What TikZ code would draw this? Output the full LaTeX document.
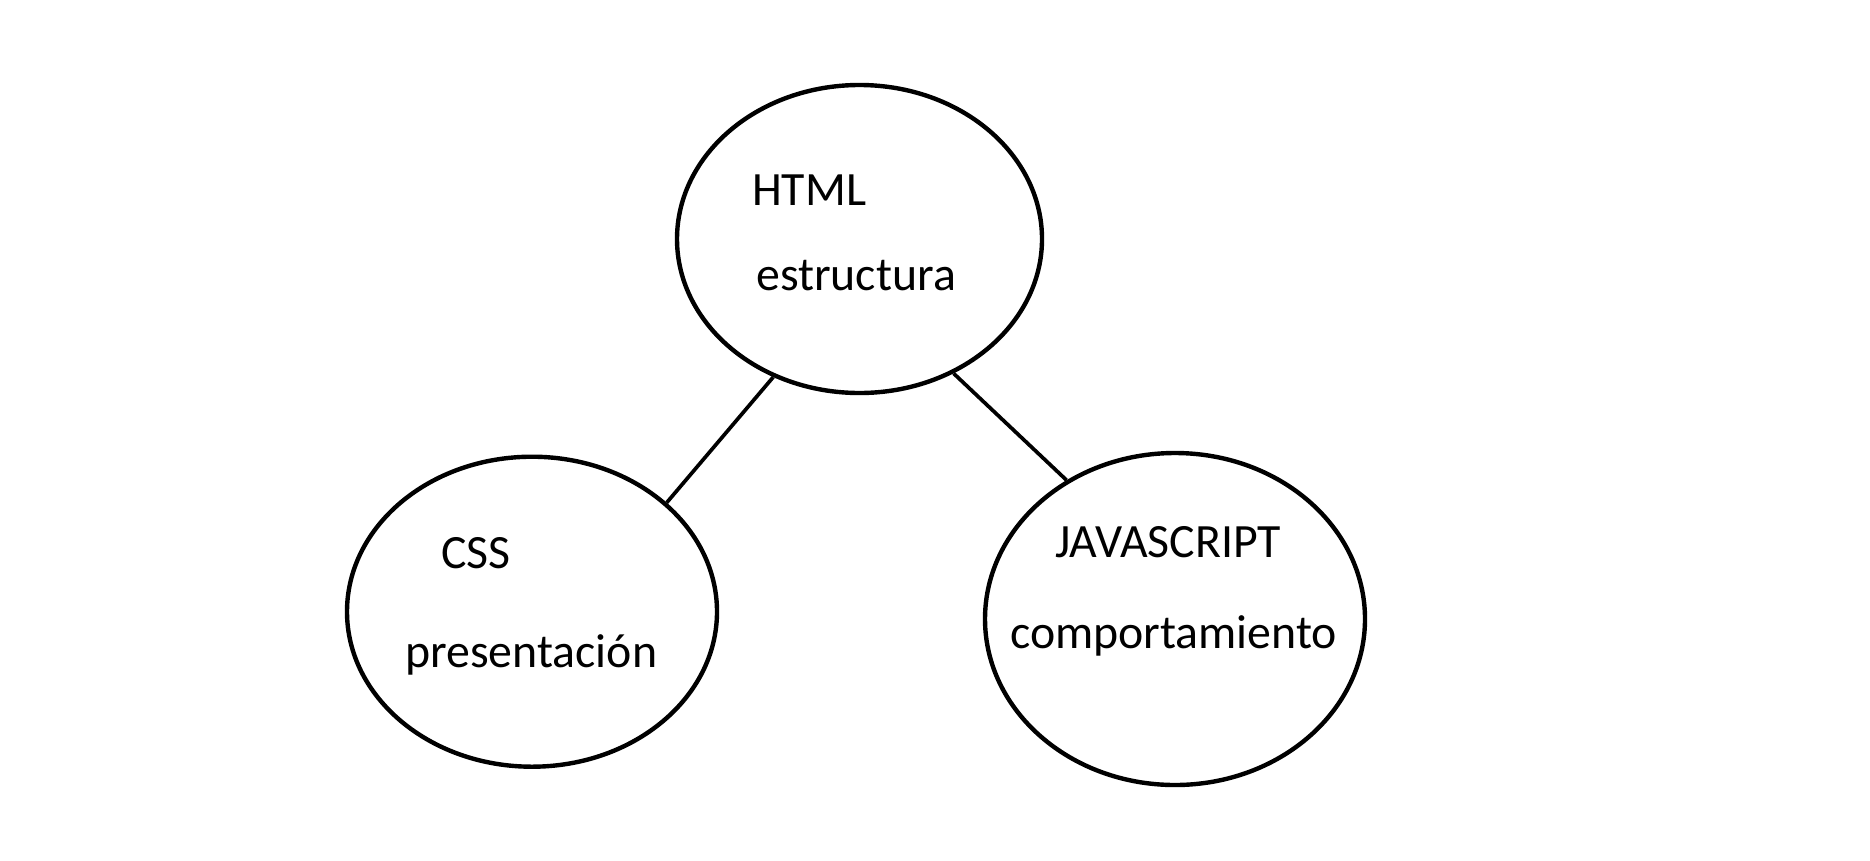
\documentclass[tikz,border=0pt]{standalone}
\usepackage{fontspec}
\setmainfont{Carlito}
\usetikzlibrary{shapes.geometric}
\begin{document}
\begin{tikzpicture}[x=1pt,y=-1pt,
  bubble/.style={draw=black,line width=4.4pt,ellipse,inner sep=0pt},
  link/.style={draw=black,line width=3.7pt},
  lbl/.style={anchor=base west,inner sep=0pt,font=\fontsize{47.8pt}{56pt}\selectfont}]
\useasboundingbox[fill=white] (0,0) rectangle (1870,860);
\node[bubble,minimum width=365pt,minimum height=308pt] (html) at (859.5,239) {};
\node[bubble,minimum width=370pt,minimum height=310pt] (css) at (532,611.7) {};
\node[bubble,minimum width=380pt,minimum height=332pt] (js) at (1175,619) {};
\draw[link] (html.238) -- (css.39.5);
\draw[link] (html.305) -- (js.128.5);
\node[lbl] (t1) at (752,205) {HTML};
\node[lbl] (t2) at (756,290) {estructura};
\node[lbl] (t3) at (441,568) {CSS};
\node[lbl] (t4) at (405,667) {presentación};
\node[lbl] (t5) at (1055,557) {JAVASCRIPT};
\node[lbl] (t6) at (1010,648) {comportamiento};
\end{tikzpicture}
\end{document}
